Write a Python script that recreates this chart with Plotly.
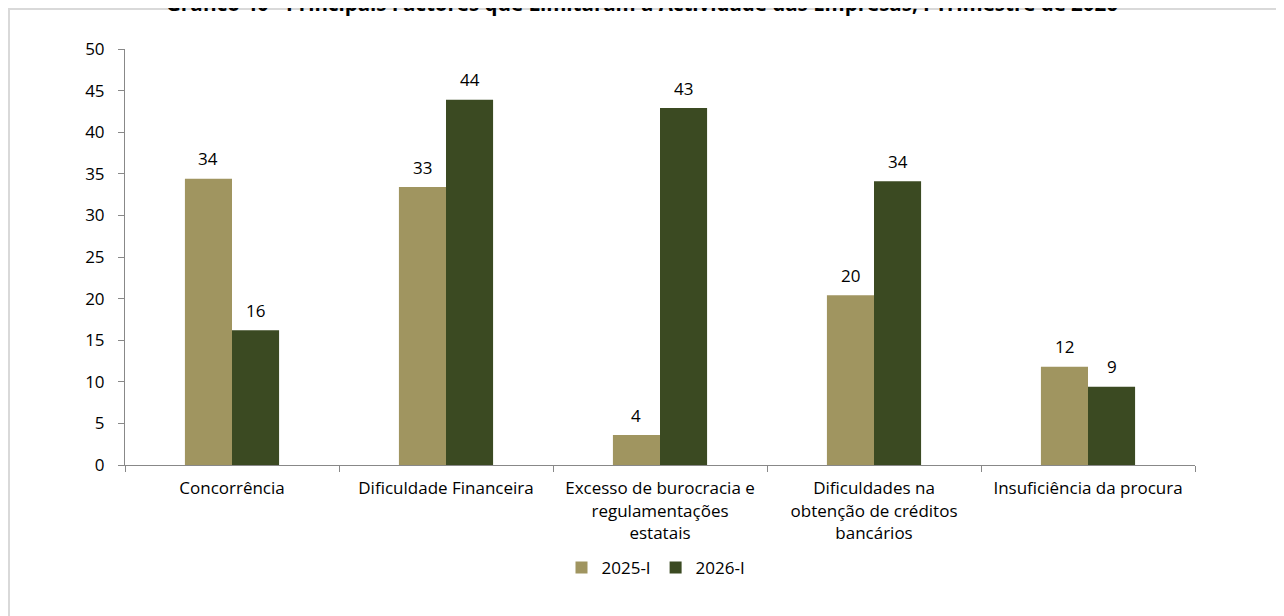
import plotly.graph_objects as go

categories = [
    "Concorrência",
    "Dificuldade Financeira",
    "Excesso de burocracia e<br>regulamentações<br>estatais",
    "Dificuldades na<br>obtenção de créditos<br>bancários",
    "Insuficiência da procura",
]
series_2025 = [34.4, 33.4, 3.6, 20.4, 11.8]
series_2026 = [16.2, 43.9, 42.9, 34.1, 9.4]
series_names = ["2025-I", "2026-I"]
colors = ["#A09560", "#3B4A22"]
title_text = "Gráfico 40 - Principais Factores que Limitaram a Actividade das Empresas, I Trimestre de 2026"

FONT = "Open Sans"
FS = 17
W, H = 1284, 616
L, R, T, B = 117, 97, 41, 159
pw, ph = W - L - R, H - T - B
BARGAP = 0.56
half_bar = pw / len(categories) * (1 - BARGAP) / 4  # centre offset of each bar in a group

fig = go.Figure()
for name, vals, col in zip(series_names, [series_2025, series_2026], colors):
    fig.add_trace(go.Bar(
        x=categories, y=vals, name=name, marker_color=col,
        marker_line_width=0,
    ))

# value labels, placed through the axes from the data
annotations = []
for vals, sign in [(series_2025, -1), (series_2026, 1)]:
    for cat, v in zip(categories, vals):
        annotations.append(dict(
            x=cat, y=v, xref="x", yref="y", text=f"{v:.0f}", showarrow=False,
            xshift=sign * half_bar, yshift=20, yanchor="middle", xanchor="center",
            font=dict(family=FONT, size=FS, color="#000000"),
        ))


def px_x(p):
    return (p - L) / pw


def px_y(p):
    return (H - B - p) / ph


annotations.append(dict(
    text="<b>" + title_text + "</b>", xref="paper", yref="paper",
    x=px_x(634), y=px_y(-5), xanchor="center", yanchor="middle",
    showarrow=False, font=dict(family=FONT, size=20.5, color="#000000")))

fig.update_layout(
    width=W, height=H,
    margin=dict(l=L, r=R, t=T, b=B, autoexpand=False),
    paper_bgcolor="white", plot_bgcolor="white",
    barmode="group", bargap=BARGAP, bargroupgap=0,
    font=dict(family=FONT, size=FS, color="#000000"),
    showlegend=True,
    legend=dict(orientation="h", x=px_x(648), xanchor="center", y=px_y(560), yanchor="middle",
                font=dict(family=FONT, size=FS), itemwidth=30, traceorder="normal"),
    xaxis=dict(showline=True, linecolor="#888888", linewidth=1, ticks="outside",
               tickson="boundaries", ticklen=6, tickcolor="#888888",
               ticklabelstandoff=8,
               tickfont=dict(family=FONT, size=FS), showgrid=False),
    yaxis=dict(range=[0, 50], dtick=5, showline=True, linecolor="#888888", linewidth=1,
               ticks="outside", ticklen=6, tickcolor="#888888", showgrid=False,
               ticklabelstandoff=10,
               zeroline=False, tickfont=dict(family=FONT, size=FS)),
    shapes=[dict(type="rect", xref="paper", yref="paper",
                 x0=px_x(1), x1=px_x(1300), y0=px_y(640), y1=px_y(1),
                 line=dict(color="#D9D9D9", width=2), fillcolor="rgba(0,0,0,0)", layer="below")],
    annotations=annotations,
)

fig.write_html("out.html")
